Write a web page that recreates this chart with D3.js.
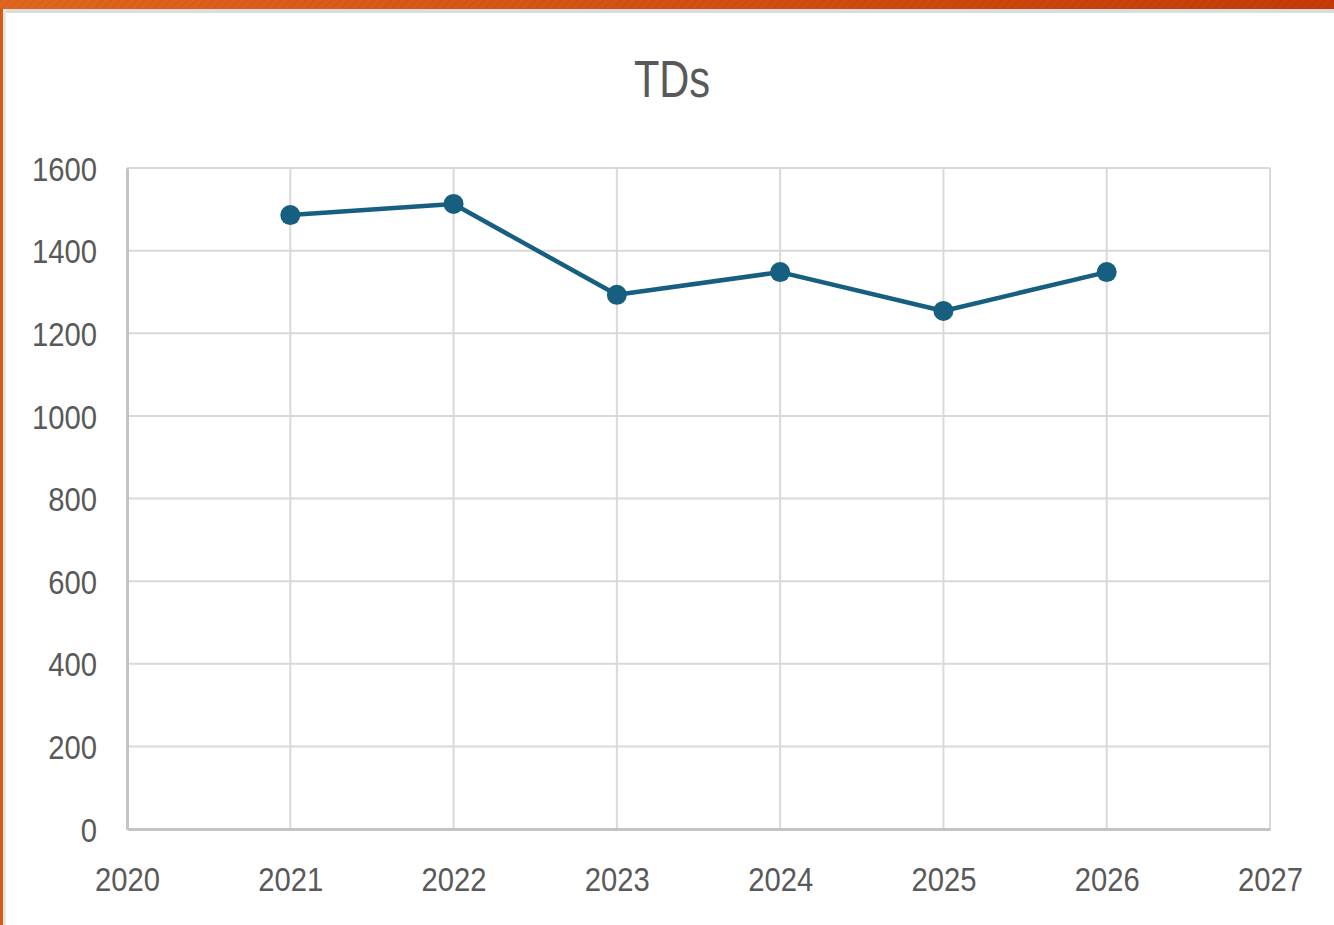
<!DOCTYPE html>
<html>
<head>
<meta charset="utf-8">
<script src="https://cdn.jsdelivr.net/npm/d3@7"></script>
<style>
  html, body { margin: 0; padding: 0; background: #fff; overflow: hidden; }
  svg { display: block; }
  .tick text { font-family: "Liberation Sans", Arial, sans-serif; fill: #595959; }
</style>
</head>
<body>
<div id="chart"></div>
<script>
// Chart data
const title = "TDs";
const years = [2021, 2022, 2023, 2024, 2025, 2026];
const tds = [1486, 1513, 1293, 1348, 1254, 1348];
const xTicks = [2020, 2021, 2022, 2023, 2024, 2025, 2026, 2027];
const yTicks = [0, 200, 400, 600, 800, 1000, 1200, 1400, 1600];

const width = 1334,
      height = 925;

const plot = { left: 127, right: 1270, top: 168, bottom: 829 };

// Office-style narrow type: squeeze Liberation Sans horizontally
const squeeze = 0.86;

const x = d3.scaleLinear()
    .domain([2020, 2027])
    .range([plot.left, plot.right]);

const y = d3.scaleLinear()
    .domain([0, 1600])
    .range([plot.bottom, plot.top]);

const svg = d3.select("#chart")
  .append("svg")
    .attr("width", width)
    .attr("height", height);

// Frame: orange strip on top and left edge
const defs = svg.append("defs");
const grad = defs.append("linearGradient")
    .attr("id", "barGrad");
grad.append("stop").attr("offset", "0%").attr("stop-color", "#e2661e");
grad.append("stop").attr("offset", "100%").attr("stop-color", "#c63b08");

const hatch = defs.append("pattern")
    .attr("id", "hatch")
    .attr("width", 6)
    .attr("height", 6)
    .attr("patternUnits", "userSpaceOnUse")
    .attr("patternTransform", "rotate(45)");
hatch.append("line")
    .attr("x1", 0).attr("y1", 0)
    .attr("x2", 0).attr("y2", 6)
    .attr("stroke", "rgba(0,0,0,0.06)")
    .attr("stroke-width", 3);

svg.append("rect")
    .attr("x", 0).attr("y", 9)
    .attr("width", width).attr("height", 4)
    .attr("fill", "#dcdcdc");
svg.append("rect")
    .attr("x", 3).attr("y", 9)
    .attr("width", 3).attr("height", height)
    .attr("fill", "#e6e6e6");
svg.append("rect")
    .attr("x", 0).attr("y", 0)
    .attr("width", 3).attr("height", height)
    .attr("fill", "#d95a14");
svg.append("rect")
    .attr("x", 0).attr("y", 0)
    .attr("width", width).attr("height", 9)
    .attr("fill", "url(#barGrad)");
svg.append("rect")
    .attr("x", 0).attr("y", 0)
    .attr("width", width).attr("height", 9)
    .attr("fill", "url(#hatch)");

// Title
svg.append("text")
    .attr("transform", `translate(672, 97) scale(0.8, 1)`)
    .attr("text-anchor", "middle")
    .attr("font-family", "'Liberation Sans', Arial, sans-serif")
    .attr("font-size", 52)
    .attr("fill", "#595959")
    .text(title);

// Gridlines
svg.append("g")
    .selectAll("line")
    .data(yTicks)
    .join("line")
      .attr("x1", plot.left)
      .attr("x2", plot.right)
      .attr("y1", d => y(d))
      .attr("y2", d => y(d))
      .attr("stroke", "#d9d9d9")
      .attr("stroke-width", 2);

svg.append("g")
    .selectAll("line")
    .data(xTicks)
    .join("line")
      .attr("x1", d => x(d))
      .attr("x2", d => x(d))
      .attr("y1", plot.top)
      .attr("y2", plot.bottom)
      .attr("stroke", "#d9d9d9")
      .attr("stroke-width", 2);

// Axes
const xAxis = svg.append("g")
    .attr("transform", `translate(0, ${plot.bottom})`)
    .call(d3.axisBottom(x)
        .tickValues(xTicks)
        .tickFormat(d3.format("d"))
        .tickSize(0)
        .tickPadding(62));
xAxis.select(".domain")
    .attr("stroke", "#c4c4c4")
    .attr("stroke-width", 3);
xAxis.selectAll("text")
    .attr("font-size", 34)
    .attr("dy", "0")
    .attr("transform", `scale(${squeeze}, 1)`);

const yAxis = svg.append("g")
    .attr("transform", `translate(${plot.left}, 0)`)
    .call(d3.axisLeft(y)
        .tickValues(yTicks)
        .tickFormat(d3.format("d"))
        .tickSize(0)
        .tickPadding(30 / squeeze));
yAxis.select(".domain")
    .attr("stroke", "#c4c4c4")
    .attr("stroke-width", 3);
yAxis.selectAll("text")
    .attr("font-size", 34)
    .attr("dy", "0.36em")
    .attr("transform", `scale(${squeeze}, 1)`);

// Series line
const series = years.map((d, i) => ({ year: d, value: tds[i] }));

svg.append("path")
    .datum(series)
    .attr("fill", "none")
    .attr("stroke", "#175f80")
    .attr("stroke-width", 4.5)
    .attr("stroke-linejoin", "round")
    .attr("d", d3.line()
        .x(d => x(d.year))
        .y(d => y(d.value)));

svg.append("g")
    .selectAll("circle")
    .data(series)
    .join("circle")
      .attr("cx", d => x(d.year))
      .attr("cy", d => y(d.value))
      .attr("r", 10)
      .attr("fill", "#175f80");
</script>
</body>
</html>
